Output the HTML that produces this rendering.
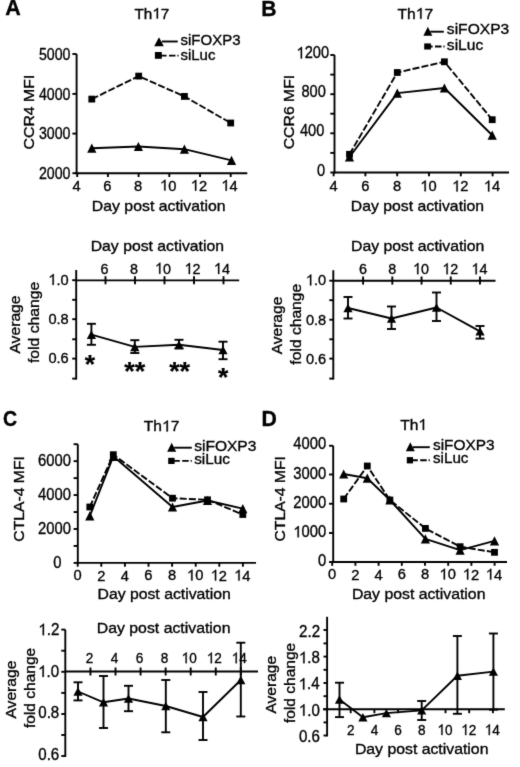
<!DOCTYPE html>
<html><head><meta charset="utf-8"><style>
html,body{margin:0;padding:0;background:#fff;}
body{width:520px;height:767px;overflow:hidden;}
svg{display:block;}
text{font-family:"Liberation Sans",sans-serif;fill:#000;stroke:#000;stroke-width:0.35px;stroke-linejoin:round;}
svg{filter:grayscale(100%);}
</style></head><body>
<svg width="520" height="767" viewBox="0 0 520 767">
<rect width="520" height="767" fill="#fff"/>
<defs><filter id="bl" filterUnits="userSpaceOnUse" x="-5" y="-5" width="530" height="777"><feConvolveMatrix order="3" kernelMatrix="0.015 0.075 0.015 0.075 0.64 0.075 0.015 0.075 0.015" divisor="1" edgeMode="none" preserveAlpha="false"/></filter></defs>
<g stroke="#000" stroke-linecap="butt" fill="none" filter="url(#bl)">
<text transform="translate(5.26,14.6) scale(0.9851,1)" font-size="21.818" font-weight="bold">A</text>
<g transform="translate(134.46,18.6) scale(1.0300,1)"><text x="0" y="0" font-size="14.838">Th</text><path d="M0.372,0H0.287V-0.585L0.109,-0.468V-0.553Q0.2,-0.6 0.262,-0.655Q0.3,-0.69 0.315,-0.716H0.372Z" transform="translate(17.32,0) scale(14.838)" fill="#000" stroke="#000" stroke-width="0.0236" stroke-linejoin="round"/><text x="25.57" y="0" font-size="14.838">7</text></g>
<polygon points="154.2,46.3 163.8,46.3 159,37.2" stroke="none" fill="#000"/>
<line x1="161.8" y1="41.5" x2="177.75" y2="41.5" stroke-width="1.9"/>
<text transform="translate(180.49,44.8) scale(1.0300,1)" font-size="14.575">siFOXP3</text>
<rect x="154.9" y="52" width="6.9" height="6.8" stroke="none" fill="#000"/>
<line x1="178.6" y1="55.6" x2="158.35" y2="55.6" stroke-width="1.9" stroke-dasharray="1.2,1.9,6.5,2.4,40"/>
<text transform="translate(180.49,59.6) scale(1.0300,1)" font-size="14.521">siLuc</text>
<line x1="76.6" y1="54" x2="76.6" y2="174.15" stroke-width="1.9"/>
<line x1="75.65" y1="173.2" x2="247.3" y2="173.2" stroke-width="1.9"/>
<line x1="77.2" y1="173.2" x2="77.2" y2="177" stroke-width="1.9"/>
<g transform="translate(72.56,190.7) scale(0.9737,1)"><text x="0" y="0" font-size="15.105">4</text></g>
<line x1="107.9" y1="173.2" x2="107.9" y2="177" stroke-width="1.9"/>
<g transform="translate(103.16,190.55) scale(0.9737,1)"><text x="0" y="0" font-size="15.105">6</text></g>
<line x1="138.6" y1="173.2" x2="138.6" y2="177" stroke-width="1.9"/>
<g transform="translate(133.92,190.55) scale(0.9737,1)"><text x="0" y="0" font-size="15.105">8</text></g>
<line x1="169.3" y1="173.2" x2="169.3" y2="177" stroke-width="1.9"/>
<g transform="translate(160.01,190.55) scale(0.9737,1)"><path d="M0.372,0H0.287V-0.585L0.109,-0.468V-0.553Q0.2,-0.6 0.262,-0.655Q0.3,-0.69 0.315,-0.716H0.372Z" transform="translate(0,0) scale(15.105)" fill="#000" stroke="#000" stroke-width="0.0232" stroke-linejoin="round"/><text x="8.4" y="0" font-size="15.105">0</text></g>
<line x1="200" y1="173.2" x2="200" y2="177" stroke-width="1.9"/>
<g transform="translate(190.8,190.7) scale(0.9737,1)"><path d="M0.372,0H0.287V-0.585L0.109,-0.468V-0.553Q0.2,-0.6 0.262,-0.655Q0.3,-0.69 0.315,-0.716H0.372Z" transform="translate(0,0) scale(15.105)" fill="#000" stroke="#000" stroke-width="0.0232" stroke-linejoin="round"/><text x="8.4" y="0" font-size="15.105">2</text></g>
<line x1="230.7" y1="173.2" x2="230.7" y2="177" stroke-width="1.9"/>
<g transform="translate(221.34,190.7) scale(0.9737,1)"><path d="M0.372,0H0.287V-0.585L0.109,-0.468V-0.553Q0.2,-0.6 0.262,-0.655Q0.3,-0.69 0.315,-0.716H0.372Z" transform="translate(0,0) scale(15.105)" fill="#000" stroke="#000" stroke-width="0.0232" stroke-linejoin="round"/><text x="8.4" y="0" font-size="15.105">4</text></g>
<line x1="72.4" y1="54" x2="76.6" y2="54" stroke-width="1.9"/>
<g transform="translate(38.88,59.65) scale(0.8789,1)"><text x="0" y="0" font-size="16.150">5000</text></g>
<line x1="72.4" y1="93.9" x2="76.6" y2="93.9" stroke-width="1.9"/>
<g transform="translate(38.88,99.55) scale(0.8789,1)"><text x="0" y="0" font-size="16.150">4000</text></g>
<line x1="72.4" y1="133.6" x2="76.6" y2="133.6" stroke-width="1.9"/>
<g transform="translate(38.88,139.25) scale(0.8789,1)"><text x="0" y="0" font-size="16.150">3000</text></g>
<line x1="72.4" y1="173.2" x2="76.6" y2="173.2" stroke-width="1.9"/>
<g transform="translate(38.88,178.85) scale(0.8789,1)"><text x="0" y="0" font-size="16.150">2000</text></g>
<text transform="translate(91.79,210.8) scale(1.0300,1)" font-size="15.382">Day post activation</text>
<text transform="translate(33.9,149.49) rotate(-90) scale(1.0300,1)" font-size="15.411">CCR4 MFI</text>
<polyline points="91.8,99.1 138.7,76.1 184.4,96.4 230.7,123" fill="none" stroke-width="1.9" stroke-dasharray="7,2.2" stroke-linejoin="round"/>
<polyline points="91.8,148.2 138.4,146.5 184.4,149.2 231.5,160.3" fill="none" stroke-width="1.9" stroke-linejoin="round"/>
<rect x="88.4" y="95.7" width="6.8" height="6.8" stroke="none" fill="#000"/>
<rect x="135.3" y="72.7" width="6.8" height="6.8" stroke="none" fill="#000"/>
<rect x="181" y="93" width="6.8" height="6.8" stroke="none" fill="#000"/>
<rect x="227.3" y="119.6" width="6.8" height="6.8" stroke="none" fill="#000"/>
<polygon points="87.2,152.8 96.4,152.8 91.8,143.6" stroke="none" fill="#000"/>
<polygon points="133.8,151.1 143,151.1 138.4,141.9" stroke="none" fill="#000"/>
<polygon points="179.8,153.8 189,153.8 184.4,144.6" stroke="none" fill="#000"/>
<polygon points="226.9,164.9 236.1,164.9 231.5,155.7" stroke="none" fill="#000"/>
<line x1="76.2" y1="270" x2="76.2" y2="379.55" stroke-width="1.9"/>
<line x1="72.2" y1="280.2" x2="76.2" y2="280.2" stroke-width="1.9"/>
<line x1="72.2" y1="299.8" x2="76.2" y2="299.8" stroke-width="1.9"/>
<line x1="72.2" y1="319.2" x2="76.2" y2="319.2" stroke-width="1.9"/>
<line x1="72.2" y1="339.3" x2="76.2" y2="339.3" stroke-width="1.9"/>
<line x1="72.2" y1="358.6" x2="76.2" y2="358.6" stroke-width="1.9"/>
<line x1="72.2" y1="378.6" x2="76.2" y2="378.6" stroke-width="1.9"/>
<g transform="translate(48.32,284.89) scale(0.9684,1)"><path d="M0.372,0H0.287V-0.585L0.109,-0.468V-0.553Q0.2,-0.6 0.262,-0.655Q0.3,-0.69 0.315,-0.716H0.372Z" transform="translate(0,0) scale(15.105)" fill="#000" stroke="#000" stroke-width="0.0232" stroke-linejoin="round"/><text x="8.4" y="0" font-size="15.105">.0</text></g>
<g transform="translate(48.39,323.89) scale(0.9684,1)"><text x="0" y="0" font-size="15.105">0.8</text></g>
<g transform="translate(48.39,363.29) scale(0.9684,1)"><text x="0" y="0" font-size="15.105">0.6</text></g>
<line x1="76.2" y1="280.4" x2="239.2" y2="280.4" stroke-width="1.9"/>
<line x1="105.5" y1="276.2" x2="105.5" y2="284.3" stroke-width="1.9"/>
<g transform="translate(100.47,273.85) scale(0.9263,1)"><text x="0" y="0" font-size="15.485">6</text></g>
<line x1="135" y1="276.2" x2="135" y2="284.3" stroke-width="1.9"/>
<g transform="translate(130.02,273.85) scale(0.9263,1)"><text x="0" y="0" font-size="15.485">8</text></g>
<line x1="164.5" y1="276.2" x2="164.5" y2="284.3" stroke-width="1.9"/>
<g transform="translate(155.03,273.85) scale(0.9263,1)"><path d="M0.372,0H0.287V-0.585L0.109,-0.468V-0.553Q0.2,-0.6 0.262,-0.655Q0.3,-0.69 0.315,-0.716H0.372Z" transform="translate(0,0) scale(15.485)" fill="#000" stroke="#000" stroke-width="0.0226" stroke-linejoin="round"/><text x="8.61" y="0" font-size="15.485">0</text></g>
<line x1="194" y1="276.2" x2="194" y2="284.3" stroke-width="1.9"/>
<g transform="translate(184.62,274) scale(0.9263,1)"><path d="M0.372,0H0.287V-0.585L0.109,-0.468V-0.553Q0.2,-0.6 0.262,-0.655Q0.3,-0.69 0.315,-0.716H0.372Z" transform="translate(0,0) scale(15.485)" fill="#000" stroke="#000" stroke-width="0.0226" stroke-linejoin="round"/><text x="8.61" y="0" font-size="15.485">2</text></g>
<line x1="223.5" y1="276.2" x2="223.5" y2="284.3" stroke-width="1.9"/>
<g transform="translate(213.95,274) scale(0.9263,1)"><path d="M0.372,0H0.287V-0.585L0.109,-0.468V-0.553Q0.2,-0.6 0.262,-0.655Q0.3,-0.69 0.315,-0.716H0.372Z" transform="translate(0,0) scale(15.485)" fill="#000" stroke="#000" stroke-width="0.0226" stroke-linejoin="round"/><text x="8.61" y="0" font-size="15.485">4</text></g>
<text transform="translate(90.7,251.4) scale(1.0300,1)" font-size="15.323">Day post activation</text>
<text transform="translate(20.1,353.54) rotate(-90) scale(1.0300,1)" font-size="15.226">Average</text>
<text transform="translate(39.2,363.04) rotate(-90) scale(1.0300,1)" font-size="15.287">fold change</text>
<line x1="91.4" y1="323.8" x2="91.4" y2="344.8" stroke-width="1.9"/>
<line x1="86.9" y1="323.8" x2="95.9" y2="323.8" stroke-width="1.9"/>
<line x1="86.9" y1="344.8" x2="95.9" y2="344.8" stroke-width="1.9"/>
<line x1="134.8" y1="340.2" x2="134.8" y2="353" stroke-width="1.9"/>
<line x1="130.3" y1="340.2" x2="139.3" y2="340.2" stroke-width="1.9"/>
<line x1="130.3" y1="353" x2="139.3" y2="353" stroke-width="1.9"/>
<line x1="179" y1="339.8" x2="179" y2="348.5" stroke-width="1.9"/>
<line x1="174.5" y1="339.8" x2="183.5" y2="339.8" stroke-width="1.9"/>
<line x1="174.5" y1="348.5" x2="183.5" y2="348.5" stroke-width="1.9"/>
<line x1="223" y1="341.7" x2="223" y2="359.2" stroke-width="1.9"/>
<line x1="218.5" y1="341.7" x2="227.5" y2="341.7" stroke-width="1.9"/>
<line x1="218.5" y1="359.2" x2="227.5" y2="359.2" stroke-width="1.9"/>
<polyline points="91.4,334.6 134.8,346.9 179,344.8 223,350" fill="none" stroke-width="1.9" stroke-linejoin="round"/>
<polygon points="86.8,338.9 96,338.9 91.4,330.3" stroke="none" fill="#000"/>
<polygon points="130.2,351.2 139.4,351.2 134.8,342.6" stroke="none" fill="#000"/>
<polygon points="174.4,349.1 183.6,349.1 179,340.5" stroke="none" fill="#000"/>
<polygon points="218.4,354.3 227.6,354.3 223,345.7" stroke="none" fill="#000"/>
<text transform="translate(84.73,373.16) scale(1.0612,1)" font-size="24.966" font-weight="bold" style="stroke-width:0.2px">*</text>
<text transform="translate(124.33,379.7) scale(1.0356,1)" font-size="26.040" font-weight="bold" style="stroke-width:0.2px">**</text>
<text transform="translate(169.13,379.7) scale(1.0356,1)" font-size="26.040" font-weight="bold" style="stroke-width:0.2px">**</text>
<text transform="translate(217.93,385.66) scale(1.0612,1)" font-size="24.966" font-weight="bold" style="stroke-width:0.2px">*</text>
<text transform="translate(261.27,16.15) scale(0.9693,1)" font-size="21.818" font-weight="bold">B</text>
<g transform="translate(397.45,18.8) scale(1.0300,1)"><text x="0" y="0" font-size="15.191">Th</text><path d="M0.372,0H0.287V-0.585L0.109,-0.468V-0.553Q0.2,-0.6 0.262,-0.655Q0.3,-0.69 0.315,-0.716H0.372Z" transform="translate(17.73,0) scale(15.191)" fill="#000" stroke="#000" stroke-width="0.0230" stroke-linejoin="round"/><text x="26.18" y="0" font-size="15.191">7</text></g>
<polygon points="423.4,35.7 432.3,35.7 427.85,26.8" stroke="none" fill="#000"/>
<line x1="430.3" y1="31.7" x2="443.8" y2="31.7" stroke-width="1.9"/>
<text transform="translate(446.87,34.3) scale(1.0300,1)" font-size="15.144">siFOXP3</text>
<rect x="424.2" y="43.4" width="6.7" height="6.1" stroke="none" fill="#000"/>
<line x1="444.6" y1="46.45" x2="427.55" y2="46.45" stroke-width="1.9" stroke-dasharray="1.2,1.9,6.5,2.4,40"/>
<text transform="translate(446.87,49.9) scale(1.0300,1)" font-size="15.117">siLuc</text>
<line x1="334.5" y1="55" x2="334.5" y2="173.45" stroke-width="1.9"/>
<line x1="333.55" y1="172.5" x2="509" y2="172.5" stroke-width="1.9"/>
<line x1="333.6" y1="172.5" x2="333.6" y2="176.3" stroke-width="1.9"/>
<g transform="translate(329.56,191.4) scale(0.9737,1)"><text x="0" y="0" font-size="15.105">4</text></g>
<line x1="365.4" y1="172.5" x2="365.4" y2="176.3" stroke-width="1.9"/>
<g transform="translate(361.26,191.25) scale(0.9737,1)"><text x="0" y="0" font-size="15.105">6</text></g>
<line x1="397.2" y1="172.5" x2="397.2" y2="176.3" stroke-width="1.9"/>
<g transform="translate(393.12,191.25) scale(0.9737,1)"><text x="0" y="0" font-size="15.105">8</text></g>
<line x1="429" y1="172.5" x2="429" y2="176.3" stroke-width="1.9"/>
<g transform="translate(420.31,191.25) scale(0.9737,1)"><path d="M0.372,0H0.287V-0.585L0.109,-0.468V-0.553Q0.2,-0.6 0.262,-0.655Q0.3,-0.69 0.315,-0.716H0.372Z" transform="translate(0,0) scale(15.105)" fill="#000" stroke="#000" stroke-width="0.0232" stroke-linejoin="round"/><text x="8.4" y="0" font-size="15.105">0</text></g>
<line x1="460.8" y1="172.5" x2="460.8" y2="176.3" stroke-width="1.9"/>
<g transform="translate(452.2,191.4) scale(0.9737,1)"><path d="M0.372,0H0.287V-0.585L0.109,-0.468V-0.553Q0.2,-0.6 0.262,-0.655Q0.3,-0.69 0.315,-0.716H0.372Z" transform="translate(0,0) scale(15.105)" fill="#000" stroke="#000" stroke-width="0.0232" stroke-linejoin="round"/><text x="8.4" y="0" font-size="15.105">2</text></g>
<line x1="492.6" y1="172.5" x2="492.6" y2="176.3" stroke-width="1.9"/>
<g transform="translate(483.84,191.4) scale(0.9737,1)"><path d="M0.372,0H0.287V-0.585L0.109,-0.468V-0.553Q0.2,-0.6 0.262,-0.655Q0.3,-0.69 0.315,-0.716H0.372Z" transform="translate(0,0) scale(15.105)" fill="#000" stroke="#000" stroke-width="0.0232" stroke-linejoin="round"/><text x="8.4" y="0" font-size="15.105">4</text></g>
<line x1="330.3" y1="55" x2="334.5" y2="55" stroke-width="1.9"/>
<line x1="330.3" y1="74.6" x2="334.5" y2="74.6" stroke-width="1.9"/>
<line x1="330.3" y1="94.2" x2="334.5" y2="94.2" stroke-width="1.9"/>
<line x1="330.3" y1="113.7" x2="334.5" y2="113.7" stroke-width="1.9"/>
<line x1="330.3" y1="133.3" x2="334.5" y2="133.3" stroke-width="1.9"/>
<line x1="330.3" y1="152.9" x2="334.5" y2="152.9" stroke-width="1.9"/>
<line x1="330.3" y1="172.5" x2="334.5" y2="172.5" stroke-width="1.9"/>
<g transform="translate(296.56,58.45) scale(0.9053,1)"><path d="M0.372,0H0.287V-0.585L0.109,-0.468V-0.553Q0.2,-0.6 0.262,-0.655Q0.3,-0.69 0.315,-0.716H0.372Z" transform="translate(0,0) scale(16.150)" fill="#000" stroke="#000" stroke-width="0.0217" stroke-linejoin="round"/><text x="8.98" y="0" font-size="16.150">200</text></g>
<g transform="translate(301.47,97.45) scale(0.9053,1)"><text x="0" y="0" font-size="16.150">800</text></g>
<g transform="translate(299.97,136.45) scale(0.9053,1)"><text x="0" y="0" font-size="16.150">400</text></g>
<g transform="translate(316.93,175.55) scale(0.9053,1)"><text x="0" y="0" font-size="16.150">0</text></g>
<text transform="translate(350.8,210.9) scale(1.0300,1)" font-size="15.323">Day post activation</text>
<text transform="translate(294.4,149.29) rotate(-90) scale(1.0300,1)" font-size="15.326">CCR6 MFI</text>
<polyline points="349.5,154.3 397.3,72.5 444.4,61.8 492.2,119.7" fill="none" stroke-width="1.9" stroke-dasharray="7,2.2" stroke-linejoin="round"/>
<polyline points="349.5,157 397.3,93.1 444.4,88 492.2,135.2" fill="none" stroke-width="1.9" stroke-linejoin="round"/>
<rect x="346.1" y="150.9" width="6.8" height="6.8" stroke="none" fill="#000"/>
<rect x="393.9" y="69.1" width="6.8" height="6.8" stroke="none" fill="#000"/>
<rect x="441" y="58.4" width="6.8" height="6.8" stroke="none" fill="#000"/>
<rect x="488.8" y="116.3" width="6.8" height="6.8" stroke="none" fill="#000"/>
<polygon points="344.9,161.6 354.1,161.6 349.5,152.4" stroke="none" fill="#000"/>
<polygon points="392.7,97.7 401.9,97.7 397.3,88.5" stroke="none" fill="#000"/>
<polygon points="439.8,92.6 449,92.6 444.4,83.4" stroke="none" fill="#000"/>
<polygon points="487.6,139.8 496.8,139.8 492.2,130.6" stroke="none" fill="#000"/>
<line x1="333.3" y1="270.2" x2="333.3" y2="379.55" stroke-width="1.9"/>
<line x1="329.3" y1="280.7" x2="333.3" y2="280.7" stroke-width="1.9"/>
<line x1="329.3" y1="300.2" x2="333.3" y2="300.2" stroke-width="1.9"/>
<line x1="329.3" y1="319.7" x2="333.3" y2="319.7" stroke-width="1.9"/>
<line x1="329.3" y1="339.3" x2="333.3" y2="339.3" stroke-width="1.9"/>
<line x1="329.3" y1="358.6" x2="333.3" y2="358.6" stroke-width="1.9"/>
<line x1="329.3" y1="378.6" x2="333.3" y2="378.6" stroke-width="1.9"/>
<g transform="translate(305.82,285.39) scale(0.9684,1)"><path d="M0.372,0H0.287V-0.585L0.109,-0.468V-0.553Q0.2,-0.6 0.262,-0.655Q0.3,-0.69 0.315,-0.716H0.372Z" transform="translate(0,0) scale(15.105)" fill="#000" stroke="#000" stroke-width="0.0232" stroke-linejoin="round"/><text x="8.4" y="0" font-size="15.105">.0</text></g>
<g transform="translate(305.89,325.19) scale(0.9684,1)"><text x="0" y="0" font-size="15.105">0.8</text></g>
<g transform="translate(305.89,364.49) scale(0.9684,1)"><text x="0" y="0" font-size="15.105">0.6</text></g>
<line x1="333.3" y1="280.7" x2="495.5" y2="280.7" stroke-width="1.9"/>
<line x1="363.1" y1="276.5" x2="363.1" y2="284.6" stroke-width="1.9"/>
<g transform="translate(359.07,274.15) scale(0.9263,1)"><text x="0" y="0" font-size="15.485">6</text></g>
<line x1="392.32" y1="276.5" x2="392.32" y2="284.6" stroke-width="1.9"/>
<g transform="translate(388.34,274.15) scale(0.9263,1)"><text x="0" y="0" font-size="15.485">8</text></g>
<line x1="421.54" y1="276.5" x2="421.54" y2="284.6" stroke-width="1.9"/>
<g transform="translate(413.07,274.15) scale(0.9263,1)"><path d="M0.372,0H0.287V-0.585L0.109,-0.468V-0.553Q0.2,-0.6 0.262,-0.655Q0.3,-0.69 0.315,-0.716H0.372Z" transform="translate(0,0) scale(15.485)" fill="#000" stroke="#000" stroke-width="0.0226" stroke-linejoin="round"/><text x="8.61" y="0" font-size="15.485">0</text></g>
<line x1="450.76" y1="276.5" x2="450.76" y2="284.6" stroke-width="1.9"/>
<g transform="translate(442.38,274.3) scale(0.9263,1)"><path d="M0.372,0H0.287V-0.585L0.109,-0.468V-0.553Q0.2,-0.6 0.262,-0.655Q0.3,-0.69 0.315,-0.716H0.372Z" transform="translate(0,0) scale(15.485)" fill="#000" stroke="#000" stroke-width="0.0226" stroke-linejoin="round"/><text x="8.61" y="0" font-size="15.485">2</text></g>
<line x1="479.98" y1="276.5" x2="479.98" y2="284.6" stroke-width="1.9"/>
<g transform="translate(471.43,274.3) scale(0.9263,1)"><path d="M0.372,0H0.287V-0.585L0.109,-0.468V-0.553Q0.2,-0.6 0.262,-0.655Q0.3,-0.69 0.315,-0.716H0.372Z" transform="translate(0,0) scale(15.485)" fill="#000" stroke="#000" stroke-width="0.0226" stroke-linejoin="round"/><text x="8.61" y="0" font-size="15.485">4</text></g>
<text transform="translate(351.1,251.2) scale(1.0300,1)" font-size="15.335">Day post activation</text>
<text transform="translate(281.7,354.34) rotate(-90) scale(1.0300,1)" font-size="15.120">Average</text>
<text transform="translate(301.4,364.63) rotate(-90) scale(1.0300,1)" font-size="15.192">fold change</text>
<line x1="348" y1="297" x2="348" y2="318.5" stroke-width="1.9"/>
<line x1="343.5" y1="297" x2="352.5" y2="297" stroke-width="1.9"/>
<line x1="343.5" y1="318.5" x2="352.5" y2="318.5" stroke-width="1.9"/>
<line x1="391.5" y1="306.5" x2="391.5" y2="329" stroke-width="1.9"/>
<line x1="387" y1="306.5" x2="396" y2="306.5" stroke-width="1.9"/>
<line x1="387" y1="329" x2="396" y2="329" stroke-width="1.9"/>
<line x1="436.5" y1="292.5" x2="436.5" y2="321" stroke-width="1.9"/>
<line x1="432" y1="292.5" x2="441" y2="292.5" stroke-width="1.9"/>
<line x1="432" y1="321" x2="441" y2="321" stroke-width="1.9"/>
<line x1="480" y1="326" x2="480" y2="338.6" stroke-width="1.9"/>
<line x1="475.5" y1="326" x2="484.5" y2="326" stroke-width="1.9"/>
<line x1="475.5" y1="338.6" x2="484.5" y2="338.6" stroke-width="1.9"/>
<polyline points="348,308 391.5,318.5 436.5,307.5 480,331.3" fill="none" stroke-width="1.9" stroke-linejoin="round"/>
<polygon points="343.4,312.3 352.6,312.3 348,303.7" stroke="none" fill="#000"/>
<polygon points="386.9,322.8 396.1,322.8 391.5,314.2" stroke="none" fill="#000"/>
<polygon points="431.9,311.8 441.1,311.8 436.5,303.2" stroke="none" fill="#000"/>
<polygon points="475.4,335.6 484.6,335.6 480,327" stroke="none" fill="#000"/>
<text transform="translate(2.92,426.18) scale(0.8978,1)" font-size="21.767" font-weight="bold">C</text>
<g transform="translate(143.85,431.4) scale(1.0300,1)"><text x="0" y="0" font-size="15.147">Th</text><path d="M0.372,0H0.287V-0.585L0.109,-0.468V-0.553Q0.2,-0.6 0.262,-0.655Q0.3,-0.69 0.315,-0.716H0.372Z" transform="translate(17.68,0) scale(15.147)" fill="#000" stroke="#000" stroke-width="0.0231" stroke-linejoin="round"/><text x="26.1" y="0" font-size="15.147">7</text></g>
<polygon points="167.2,451.7 176.2,451.7 171.7,442.8" stroke="none" fill="#000"/>
<line x1="174.2" y1="447.7" x2="191.8" y2="447.7" stroke-width="1.9"/>
<text transform="translate(194.17,450.5) scale(1.0300,1)" font-size="15.119">siFOXP3</text>
<rect x="168.2" y="457.8" width="6.4" height="6.2" stroke="none" fill="#000"/>
<line x1="191.8" y1="460.9" x2="171.4" y2="460.9" stroke-width="1.9" stroke-dasharray="1.2,1.9,6.5,2.4,40"/>
<text transform="translate(194.18,464) scale(1.0300,1)" font-size="14.904">siLuc</text>
<line x1="77.8" y1="444.2" x2="77.8" y2="563.85" stroke-width="1.9"/>
<line x1="76.85" y1="562.9" x2="256" y2="562.9" stroke-width="1.9"/>
<line x1="77.7" y1="562.9" x2="77.7" y2="566.7" stroke-width="1.9"/>
<g transform="translate(73.6,580.45) scale(0.9737,1)"><text x="0" y="0" font-size="15.105">0</text></g>
<line x1="101.3" y1="562.9" x2="101.3" y2="566.7" stroke-width="1.9"/>
<g transform="translate(97.22,580.6) scale(0.9737,1)"><text x="0" y="0" font-size="15.105">2</text></g>
<line x1="124.9" y1="562.9" x2="124.9" y2="566.7" stroke-width="1.9"/>
<g transform="translate(120.86,580.6) scale(0.9737,1)"><text x="0" y="0" font-size="15.105">4</text></g>
<line x1="148.5" y1="562.9" x2="148.5" y2="566.7" stroke-width="1.9"/>
<g transform="translate(144.36,580.45) scale(0.9737,1)"><text x="0" y="0" font-size="15.105">6</text></g>
<line x1="172.1" y1="562.9" x2="172.1" y2="566.7" stroke-width="1.9"/>
<g transform="translate(168.02,580.45) scale(0.9737,1)"><text x="0" y="0" font-size="15.105">8</text></g>
<line x1="195.7" y1="562.9" x2="195.7" y2="566.7" stroke-width="1.9"/>
<g transform="translate(187.01,580.45) scale(0.9737,1)"><path d="M0.372,0H0.287V-0.585L0.109,-0.468V-0.553Q0.2,-0.6 0.262,-0.655Q0.3,-0.69 0.315,-0.716H0.372Z" transform="translate(0,0) scale(15.105)" fill="#000" stroke="#000" stroke-width="0.0232" stroke-linejoin="round"/><text x="8.4" y="0" font-size="15.105">0</text></g>
<line x1="219.3" y1="562.9" x2="219.3" y2="566.7" stroke-width="1.9"/>
<g transform="translate(210.7,580.6) scale(0.9737,1)"><path d="M0.372,0H0.287V-0.585L0.109,-0.468V-0.553Q0.2,-0.6 0.262,-0.655Q0.3,-0.69 0.315,-0.716H0.372Z" transform="translate(0,0) scale(15.105)" fill="#000" stroke="#000" stroke-width="0.0232" stroke-linejoin="round"/><text x="8.4" y="0" font-size="15.105">2</text></g>
<line x1="242.9" y1="562.9" x2="242.9" y2="566.7" stroke-width="1.9"/>
<g transform="translate(234.14,580.6) scale(0.9737,1)"><path d="M0.372,0H0.287V-0.585L0.109,-0.468V-0.553Q0.2,-0.6 0.262,-0.655Q0.3,-0.69 0.315,-0.716H0.372Z" transform="translate(0,0) scale(15.105)" fill="#000" stroke="#000" stroke-width="0.0232" stroke-linejoin="round"/><text x="8.4" y="0" font-size="15.105">4</text></g>
<line x1="73.6" y1="562.9" x2="77.8" y2="562.9" stroke-width="1.9"/>
<line x1="73.6" y1="545.94" x2="77.8" y2="545.94" stroke-width="1.9"/>
<line x1="73.6" y1="528.99" x2="77.8" y2="528.99" stroke-width="1.9"/>
<line x1="73.6" y1="512.03" x2="77.8" y2="512.03" stroke-width="1.9"/>
<line x1="73.6" y1="495.07" x2="77.8" y2="495.07" stroke-width="1.9"/>
<line x1="73.6" y1="478.12" x2="77.8" y2="478.12" stroke-width="1.9"/>
<line x1="73.6" y1="461.16" x2="77.8" y2="461.16" stroke-width="1.9"/>
<line x1="73.6" y1="444.2" x2="77.8" y2="444.2" stroke-width="1.9"/>
<g transform="translate(38.08,466.15) scale(0.9158,1)"><text x="0" y="0" font-size="16.150">6000</text></g>
<g transform="translate(38.08,499.95) scale(0.9158,1)"><text x="0" y="0" font-size="16.150">4000</text></g>
<g transform="translate(38.08,533.85) scale(0.9158,1)"><text x="0" y="0" font-size="16.150">2000</text></g>
<g transform="translate(53.35,567.55) scale(0.9158,1)"><text x="0" y="0" font-size="16.150">0</text></g>
<text transform="translate(97.5,598.55) scale(1.0300,1)" font-size="15.335">Day post activation</text>
<text transform="translate(24.4,541.69) rotate(-90) scale(1.0300,1)" font-size="15.270">CTLA-4 MFI</text>
<polyline points="89.8,507 113.3,454.7 172.5,498.2 207.5,499.8 242.8,514.5" fill="none" stroke-width="1.9" stroke-dasharray="7,2.2" stroke-linejoin="round"/>
<polyline points="89.8,515.8 113.3,456.3 172.5,507 207.5,500.5 242.8,508.6" fill="none" stroke-width="1.9" stroke-linejoin="round"/>
<rect x="86.4" y="503.6" width="6.8" height="6.8" stroke="none" fill="#000"/>
<rect x="109.9" y="451.3" width="6.8" height="6.8" stroke="none" fill="#000"/>
<rect x="169.1" y="494.8" width="6.8" height="6.8" stroke="none" fill="#000"/>
<rect x="204.1" y="496.4" width="6.8" height="6.8" stroke="none" fill="#000"/>
<rect x="239.4" y="511.1" width="6.8" height="6.8" stroke="none" fill="#000"/>
<polygon points="85.2,520.4 94.4,520.4 89.8,511.2" stroke="none" fill="#000"/>
<polygon points="108.7,460.9 117.9,460.9 113.3,451.7" stroke="none" fill="#000"/>
<polygon points="167.9,511.6 177.1,511.6 172.5,502.4" stroke="none" fill="#000"/>
<polygon points="202.9,505.1 212.1,505.1 207.5,495.9" stroke="none" fill="#000"/>
<polygon points="238.2,513.2 247.4,513.2 242.8,504" stroke="none" fill="#000"/>
<line x1="65.3" y1="629.6" x2="65.3" y2="756.95" stroke-width="1.9"/>
<line x1="61.3" y1="629.6" x2="65.3" y2="629.6" stroke-width="1.9"/>
<line x1="61.3" y1="650.7" x2="65.3" y2="650.7" stroke-width="1.9"/>
<line x1="61.3" y1="671.8" x2="65.3" y2="671.8" stroke-width="1.9"/>
<line x1="61.3" y1="692.9" x2="65.3" y2="692.9" stroke-width="1.9"/>
<line x1="61.3" y1="714" x2="65.3" y2="714" stroke-width="1.9"/>
<line x1="61.3" y1="735" x2="65.3" y2="735" stroke-width="1.9"/>
<line x1="61.3" y1="756" x2="65.3" y2="756" stroke-width="1.9"/>
<g transform="translate(38.34,635.17) scale(0.9474,1)"><path d="M0.372,0H0.287V-0.585L0.109,-0.468V-0.553Q0.2,-0.6 0.262,-0.655Q0.3,-0.69 0.315,-0.716H0.372Z" transform="translate(0,0) scale(15.960)" fill="#000" stroke="#000" stroke-width="0.0219" stroke-linejoin="round"/><text x="8.88" y="0" font-size="15.960">.2</text></g>
<g transform="translate(38.15,676.99) scale(0.9474,1)"><path d="M0.372,0H0.287V-0.585L0.109,-0.468V-0.553Q0.2,-0.6 0.262,-0.655Q0.3,-0.69 0.315,-0.716H0.372Z" transform="translate(0,0) scale(15.960)" fill="#000" stroke="#000" stroke-width="0.0219" stroke-linejoin="round"/><text x="8.88" y="0" font-size="15.960">.0</text></g>
<g transform="translate(38.23,718.09) scale(0.9474,1)"><text x="0" y="0" font-size="15.960">0.8</text></g>
<g transform="translate(38.23,760.19) scale(0.9474,1)"><text x="0" y="0" font-size="15.960">0.6</text></g>
<line x1="65.3" y1="671.5" x2="258" y2="671.5" stroke-width="1.9"/>
<line x1="90.46" y1="667.5" x2="90.46" y2="675.5" stroke-width="1.9"/>
<g transform="translate(85.69,663.3) scale(0.9053,1)"><text x="0" y="0" font-size="15.010">2</text></g>
<line x1="115.52" y1="667.5" x2="115.52" y2="675.5" stroke-width="1.9"/>
<g transform="translate(110.78,663.3) scale(0.9053,1)"><text x="0" y="0" font-size="15.010">4</text></g>
<line x1="140.58" y1="667.5" x2="140.58" y2="675.5" stroke-width="1.9"/>
<g transform="translate(135.76,663.15) scale(0.9053,1)"><text x="0" y="0" font-size="15.010">6</text></g>
<line x1="165.64" y1="667.5" x2="165.64" y2="675.5" stroke-width="1.9"/>
<g transform="translate(160.87,663.15) scale(0.9053,1)"><text x="0" y="0" font-size="15.010">8</text></g>
<line x1="190.7" y1="667.5" x2="190.7" y2="675.5" stroke-width="1.9"/>
<g transform="translate(181.67,663.15) scale(0.9053,1)"><path d="M0.372,0H0.287V-0.585L0.109,-0.468V-0.553Q0.2,-0.6 0.262,-0.655Q0.3,-0.69 0.315,-0.716H0.372Z" transform="translate(0,0) scale(15.010)" fill="#000" stroke="#000" stroke-width="0.0233" stroke-linejoin="round"/><text x="8.35" y="0" font-size="15.010">0</text></g>
<line x1="215.76" y1="667.5" x2="215.76" y2="675.5" stroke-width="1.9"/>
<g transform="translate(206.82,663.3) scale(0.9053,1)"><path d="M0.372,0H0.287V-0.585L0.109,-0.468V-0.553Q0.2,-0.6 0.262,-0.655Q0.3,-0.69 0.315,-0.716H0.372Z" transform="translate(0,0) scale(15.010)" fill="#000" stroke="#000" stroke-width="0.0233" stroke-linejoin="round"/><text x="8.35" y="0" font-size="15.010">2</text></g>
<line x1="240.82" y1="667.5" x2="240.82" y2="675.5" stroke-width="1.9"/>
<g transform="translate(231.72,663.3) scale(0.9053,1)"><path d="M0.372,0H0.287V-0.585L0.109,-0.468V-0.553Q0.2,-0.6 0.262,-0.655Q0.3,-0.69 0.315,-0.716H0.372Z" transform="translate(0,0) scale(15.010)" fill="#000" stroke="#000" stroke-width="0.0233" stroke-linejoin="round"/><text x="8.35" y="0" font-size="15.010">4</text></g>
<text transform="translate(96.79,633.1) scale(1.0300,1)" font-size="15.370">Day post activation</text>
<text transform="translate(16,718.54) rotate(-90) scale(1.0300,1)" font-size="15.173">Average</text>
<text transform="translate(35.3,728.03) rotate(-90) scale(1.0300,1)" font-size="15.078">fold change</text>
<line x1="78" y1="682.3" x2="78" y2="700.4" stroke-width="1.9"/>
<line x1="73.5" y1="682.3" x2="82.5" y2="682.3" stroke-width="1.9"/>
<line x1="73.5" y1="700.4" x2="82.5" y2="700.4" stroke-width="1.9"/>
<line x1="103.5" y1="676" x2="103.5" y2="728" stroke-width="1.9"/>
<line x1="99" y1="676" x2="108" y2="676" stroke-width="1.9"/>
<line x1="99" y1="728" x2="108" y2="728" stroke-width="1.9"/>
<line x1="128.5" y1="685.8" x2="128.5" y2="711.2" stroke-width="1.9"/>
<line x1="124" y1="685.8" x2="133" y2="685.8" stroke-width="1.9"/>
<line x1="124" y1="711.2" x2="133" y2="711.2" stroke-width="1.9"/>
<line x1="165.8" y1="680" x2="165.8" y2="732.3" stroke-width="1.9"/>
<line x1="161.3" y1="680" x2="170.3" y2="680" stroke-width="1.9"/>
<line x1="161.3" y1="732.3" x2="170.3" y2="732.3" stroke-width="1.9"/>
<line x1="203" y1="692" x2="203" y2="740" stroke-width="1.9"/>
<line x1="198.5" y1="692" x2="207.5" y2="692" stroke-width="1.9"/>
<line x1="198.5" y1="740" x2="207.5" y2="740" stroke-width="1.9"/>
<line x1="240.8" y1="642.7" x2="240.8" y2="716.5" stroke-width="1.9"/>
<line x1="236.3" y1="642.7" x2="245.3" y2="642.7" stroke-width="1.9"/>
<line x1="236.3" y1="716.5" x2="245.3" y2="716.5" stroke-width="1.9"/>
<polyline points="78,691.5 103.5,702.3 128.5,698.5 165.8,706 203,717 240.8,680" fill="none" stroke-width="1.9" stroke-linejoin="round"/>
<polygon points="73.4,695.8 82.6,695.8 78,687.2" stroke="none" fill="#000"/>
<polygon points="98.9,706.6 108.1,706.6 103.5,698" stroke="none" fill="#000"/>
<polygon points="123.9,702.8 133.1,702.8 128.5,694.2" stroke="none" fill="#000"/>
<polygon points="161.2,710.3 170.4,710.3 165.8,701.7" stroke="none" fill="#000"/>
<polygon points="198.4,721.3 207.6,721.3 203,712.7" stroke="none" fill="#000"/>
<polygon points="236.2,684.3 245.4,684.3 240.8,675.7" stroke="none" fill="#000"/>
<text transform="translate(261.47,425.9) scale(0.9994,1)" font-size="21.236" font-weight="bold">D</text>
<g transform="translate(400.15,429.9) scale(1.0300,1)"><text x="0" y="0" font-size="15.109">Th</text><path d="M0.372,0H0.287V-0.585L0.109,-0.468V-0.553Q0.2,-0.6 0.262,-0.655Q0.3,-0.69 0.315,-0.716H0.372Z" transform="translate(17.63,0) scale(15.109)" fill="#000" stroke="#000" stroke-width="0.0232" stroke-linejoin="round"/></g>
<polygon points="405.8,451.2 414.8,451.2 410.3,442.3" stroke="none" fill="#000"/>
<line x1="412.8" y1="447.2" x2="429.8" y2="447.2" stroke-width="1.9"/>
<text transform="translate(432.98,450.2) scale(1.0300,1)" font-size="14.971">siFOXP3</text>
<rect x="406.8" y="457.1" width="6.2" height="6.3" stroke="none" fill="#000"/>
<line x1="429.8" y1="460.25" x2="409.9" y2="460.25" stroke-width="1.9" stroke-dasharray="1.2,1.9,6.5,2.4,40"/>
<text transform="translate(432.98,463.2) scale(1.0300,1)" font-size="14.776">siLuc</text>
<line x1="333.2" y1="445.75" x2="333.2" y2="562.95" stroke-width="1.9"/>
<line x1="332.25" y1="562" x2="507" y2="562" stroke-width="1.9"/>
<line x1="332.2" y1="562" x2="332.2" y2="565.8" stroke-width="1.9"/>
<g transform="translate(328.1,579.45) scale(0.9737,1)"><text x="0" y="0" font-size="15.105">0</text></g>
<line x1="355.4" y1="562" x2="355.4" y2="565.8" stroke-width="1.9"/>
<g transform="translate(351.32,579.6) scale(0.9737,1)"><text x="0" y="0" font-size="15.105">2</text></g>
<line x1="378.6" y1="562" x2="378.6" y2="565.8" stroke-width="1.9"/>
<g transform="translate(374.56,579.6) scale(0.9737,1)"><text x="0" y="0" font-size="15.105">4</text></g>
<line x1="401.8" y1="562" x2="401.8" y2="565.8" stroke-width="1.9"/>
<g transform="translate(397.66,579.45) scale(0.9737,1)"><text x="0" y="0" font-size="15.105">6</text></g>
<line x1="425" y1="562" x2="425" y2="565.8" stroke-width="1.9"/>
<g transform="translate(420.92,579.45) scale(0.9737,1)"><text x="0" y="0" font-size="15.105">8</text></g>
<line x1="448.2" y1="562" x2="448.2" y2="565.8" stroke-width="1.9"/>
<g transform="translate(439.51,579.45) scale(0.9737,1)"><path d="M0.372,0H0.287V-0.585L0.109,-0.468V-0.553Q0.2,-0.6 0.262,-0.655Q0.3,-0.69 0.315,-0.716H0.372Z" transform="translate(0,0) scale(15.105)" fill="#000" stroke="#000" stroke-width="0.0232" stroke-linejoin="round"/><text x="8.4" y="0" font-size="15.105">0</text></g>
<line x1="471.4" y1="562" x2="471.4" y2="565.8" stroke-width="1.9"/>
<g transform="translate(462.8,579.6) scale(0.9737,1)"><path d="M0.372,0H0.287V-0.585L0.109,-0.468V-0.553Q0.2,-0.6 0.262,-0.655Q0.3,-0.69 0.315,-0.716H0.372Z" transform="translate(0,0) scale(15.105)" fill="#000" stroke="#000" stroke-width="0.0232" stroke-linejoin="round"/><text x="8.4" y="0" font-size="15.105">2</text></g>
<line x1="494.6" y1="562" x2="494.6" y2="565.8" stroke-width="1.9"/>
<g transform="translate(485.84,579.6) scale(0.9737,1)"><path d="M0.372,0H0.287V-0.585L0.109,-0.468V-0.553Q0.2,-0.6 0.262,-0.655Q0.3,-0.69 0.315,-0.716H0.372Z" transform="translate(0,0) scale(15.105)" fill="#000" stroke="#000" stroke-width="0.0232" stroke-linejoin="round"/><text x="8.4" y="0" font-size="15.105">4</text></g>
<line x1="329" y1="445.75" x2="333.2" y2="445.75" stroke-width="1.9"/>
<line x1="329" y1="474.5" x2="333.2" y2="474.5" stroke-width="1.9"/>
<line x1="329" y1="503.75" x2="333.2" y2="503.75" stroke-width="1.9"/>
<line x1="329" y1="533" x2="333.2" y2="533" stroke-width="1.9"/>
<line x1="329" y1="562" x2="333.2" y2="562" stroke-width="1.9"/>
<g transform="translate(293.33,449.09) scale(0.9421,1)"><text x="0" y="0" font-size="15.675">4000</text></g>
<g transform="translate(293.33,478.84) scale(0.9421,1)"><text x="0" y="0" font-size="15.675">3000</text></g>
<g transform="translate(293.33,508.09) scale(0.9421,1)"><text x="0" y="0" font-size="15.675">2000</text></g>
<g transform="translate(293.33,537.34) scale(0.9421,1)"><path d="M0.372,0H0.287V-0.585L0.109,-0.468V-0.553Q0.2,-0.6 0.262,-0.655Q0.3,-0.69 0.315,-0.716H0.372Z" transform="translate(0,0) scale(15.675)" fill="#000" stroke="#000" stroke-width="0.0223" stroke-linejoin="round"/><text x="8.72" y="0" font-size="15.675">000</text></g>
<g transform="translate(317.96,566.34) scale(0.9421,1)"><text x="0" y="0" font-size="15.675">0</text></g>
<text transform="translate(351.89,598.55) scale(1.0300,1)" font-size="15.359">Day post activation</text>
<text transform="translate(285.1,541.48) rotate(-90) scale(1.0300,1)" font-size="15.234">CTLA-4 MFI</text>
<polyline points="343.7,499 367.3,466 389.9,500 425.4,528.4 460.1,546.7 494.5,552.3" fill="none" stroke-width="1.9" stroke-dasharray="7,2.2" stroke-linejoin="round"/>
<polyline points="343.7,474 367.3,478.2 389.9,500 425.4,538.8 460.1,550.2 494.5,540.8" fill="none" stroke-width="1.9" stroke-linejoin="round"/>
<rect x="340.3" y="495.6" width="6.8" height="6.8" stroke="none" fill="#000"/>
<rect x="363.9" y="462.6" width="6.8" height="6.8" stroke="none" fill="#000"/>
<rect x="386.5" y="496.6" width="6.8" height="6.8" stroke="none" fill="#000"/>
<rect x="422" y="525" width="6.8" height="6.8" stroke="none" fill="#000"/>
<rect x="456.7" y="543.3" width="6.8" height="6.8" stroke="none" fill="#000"/>
<rect x="491.1" y="548.9" width="6.8" height="6.8" stroke="none" fill="#000"/>
<polygon points="339.1,478.6 348.3,478.6 343.7,469.4" stroke="none" fill="#000"/>
<polygon points="362.7,482.8 371.9,482.8 367.3,473.6" stroke="none" fill="#000"/>
<polygon points="385.3,504.6 394.5,504.6 389.9,495.4" stroke="none" fill="#000"/>
<polygon points="420.8,543.4 430,543.4 425.4,534.2" stroke="none" fill="#000"/>
<polygon points="455.5,554.8 464.7,554.8 460.1,545.6" stroke="none" fill="#000"/>
<polygon points="489.9,545.4 499.1,545.4 494.5,536.2" stroke="none" fill="#000"/>
<line x1="327.1" y1="616.8" x2="327.1" y2="736.45" stroke-width="1.9"/>
<line x1="323.5" y1="630" x2="327.1" y2="630" stroke-width="1.9"/>
<line x1="323.5" y1="643.4" x2="327.1" y2="643.4" stroke-width="1.9"/>
<line x1="323.5" y1="656.6" x2="327.1" y2="656.6" stroke-width="1.9"/>
<line x1="323.5" y1="669.8" x2="327.1" y2="669.8" stroke-width="1.9"/>
<line x1="323.5" y1="683" x2="327.1" y2="683" stroke-width="1.9"/>
<line x1="323.5" y1="696.2" x2="327.1" y2="696.2" stroke-width="1.9"/>
<line x1="323.5" y1="709.3" x2="327.1" y2="709.3" stroke-width="1.9"/>
<line x1="323.5" y1="722.4" x2="327.1" y2="722.4" stroke-width="1.9"/>
<line x1="323.5" y1="735.5" x2="327.1" y2="735.5" stroke-width="1.9"/>
<g transform="translate(299.04,636.67) scale(0.9474,1)"><text x="0" y="0" font-size="15.960">2.2</text></g>
<g transform="translate(298.93,663.19) scale(0.9474,1)"><path d="M0.372,0H0.287V-0.585L0.109,-0.468V-0.553Q0.2,-0.6 0.262,-0.655Q0.3,-0.69 0.315,-0.716H0.372Z" transform="translate(0,0) scale(15.960)" fill="#000" stroke="#000" stroke-width="0.0219" stroke-linejoin="round"/><text x="8.88" y="0" font-size="15.960">.8</text></g>
<g transform="translate(298.7,689.49) scale(0.9474,1)"><path d="M0.372,0H0.287V-0.585L0.109,-0.468V-0.553Q0.2,-0.6 0.262,-0.655Q0.3,-0.69 0.315,-0.716H0.372Z" transform="translate(0,0) scale(15.960)" fill="#000" stroke="#000" stroke-width="0.0219" stroke-linejoin="round"/><text x="8.88" y="0" font-size="15.960">.4</text></g>
<g transform="translate(298.85,715.69) scale(0.9474,1)"><path d="M0.372,0H0.287V-0.585L0.109,-0.468V-0.553Q0.2,-0.6 0.262,-0.655Q0.3,-0.69 0.315,-0.716H0.372Z" transform="translate(0,0) scale(15.960)" fill="#000" stroke="#000" stroke-width="0.0219" stroke-linejoin="round"/><text x="8.88" y="0" font-size="15.960">.0</text></g>
<g transform="translate(298.93,741.89) scale(0.9474,1)"><text x="0" y="0" font-size="15.960">0.6</text></g>
<line x1="323.1" y1="709.3" x2="504.8" y2="709.3" stroke-width="1.9"/>
<line x1="350.7" y1="709.3" x2="350.7" y2="713.2" stroke-width="1.9"/>
<g transform="translate(346.93,735.1) scale(0.9053,1)"><text x="0" y="0" font-size="15.010">2</text></g>
<line x1="374.4" y1="709.3" x2="374.4" y2="713.2" stroke-width="1.9"/>
<g transform="translate(370.66,735.1) scale(0.9053,1)"><text x="0" y="0" font-size="15.010">4</text></g>
<line x1="398.1" y1="709.3" x2="398.1" y2="713.2" stroke-width="1.9"/>
<g transform="translate(394.28,734.95) scale(0.9053,1)"><text x="0" y="0" font-size="15.010">6</text></g>
<line x1="421.8" y1="709.3" x2="421.8" y2="713.2" stroke-width="1.9"/>
<g transform="translate(418.03,734.95) scale(0.9053,1)"><text x="0" y="0" font-size="15.010">8</text></g>
<line x1="445.5" y1="709.3" x2="445.5" y2="713.2" stroke-width="1.9"/>
<g transform="translate(437.47,734.95) scale(0.9053,1)"><path d="M0.372,0H0.287V-0.585L0.109,-0.468V-0.553Q0.2,-0.6 0.262,-0.655Q0.3,-0.69 0.315,-0.716H0.372Z" transform="translate(0,0) scale(15.010)" fill="#000" stroke="#000" stroke-width="0.0233" stroke-linejoin="round"/><text x="8.35" y="0" font-size="15.010">0</text></g>
<line x1="469.2" y1="709.3" x2="469.2" y2="713.2" stroke-width="1.9"/>
<g transform="translate(461.26,735.1) scale(0.9053,1)"><path d="M0.372,0H0.287V-0.585L0.109,-0.468V-0.553Q0.2,-0.6 0.262,-0.655Q0.3,-0.69 0.315,-0.716H0.372Z" transform="translate(0,0) scale(15.010)" fill="#000" stroke="#000" stroke-width="0.0233" stroke-linejoin="round"/><text x="8.35" y="0" font-size="15.010">2</text></g>
<line x1="492.9" y1="709.3" x2="492.9" y2="713.2" stroke-width="1.9"/>
<g transform="translate(484.8,735.1) scale(0.9053,1)"><path d="M0.372,0H0.287V-0.585L0.109,-0.468V-0.553Q0.2,-0.6 0.262,-0.655Q0.3,-0.69 0.315,-0.716H0.372Z" transform="translate(0,0) scale(15.010)" fill="#000" stroke="#000" stroke-width="0.0233" stroke-linejoin="round"/><text x="8.35" y="0" font-size="15.010">4</text></g>
<text transform="translate(354.89,754) scale(1.0300,1)" font-size="15.359">Day post activation</text>
<text transform="translate(276,713.54) rotate(-90) scale(1.0300,1)" font-size="15.120">Average</text>
<text transform="translate(295.3,723.03) rotate(-90) scale(1.0300,1)" font-size="15.078">fold change</text>
<line x1="339.5" y1="682.7" x2="339.5" y2="717.1" stroke-width="1.9"/>
<line x1="335" y1="682.7" x2="344" y2="682.7" stroke-width="1.9"/>
<line x1="335" y1="717.1" x2="344" y2="717.1" stroke-width="1.9"/>
<line x1="421.7" y1="701" x2="421.7" y2="720" stroke-width="1.9"/>
<line x1="417.2" y1="701" x2="426.2" y2="701" stroke-width="1.9"/>
<line x1="417.2" y1="720" x2="426.2" y2="720" stroke-width="1.9"/>
<line x1="457.4" y1="636" x2="457.4" y2="713.8" stroke-width="1.9"/>
<line x1="452.9" y1="636" x2="461.9" y2="636" stroke-width="1.9"/>
<line x1="452.9" y1="713.8" x2="461.9" y2="713.8" stroke-width="1.9"/>
<line x1="493.4" y1="633.5" x2="493.4" y2="709.7" stroke-width="1.9"/>
<line x1="488.9" y1="633.5" x2="497.9" y2="633.5" stroke-width="1.9"/>
<line x1="488.9" y1="709.7" x2="497.9" y2="709.7" stroke-width="1.9"/>
<polyline points="339.5,699.5 362.9,717.3 386.4,713.1 421.7,710.4 457.4,675.8 493.4,671.6" fill="none" stroke-width="1.9" stroke-linejoin="round"/>
<polygon points="334.9,703.7 344.1,703.7 339.5,695.3" stroke="none" fill="#000"/>
<polygon points="358.3,721.5 367.5,721.5 362.9,713.1" stroke="none" fill="#000"/>
<polygon points="381.8,717.3 391,717.3 386.4,708.9" stroke="none" fill="#000"/>
<polygon points="417.1,714.6 426.3,714.6 421.7,706.2" stroke="none" fill="#000"/>
<polygon points="452.8,680 462,680 457.4,671.6" stroke="none" fill="#000"/>
<polygon points="488.8,675.8 498,675.8 493.4,667.4" stroke="none" fill="#000"/>
</g>
</svg>
</body></html>
